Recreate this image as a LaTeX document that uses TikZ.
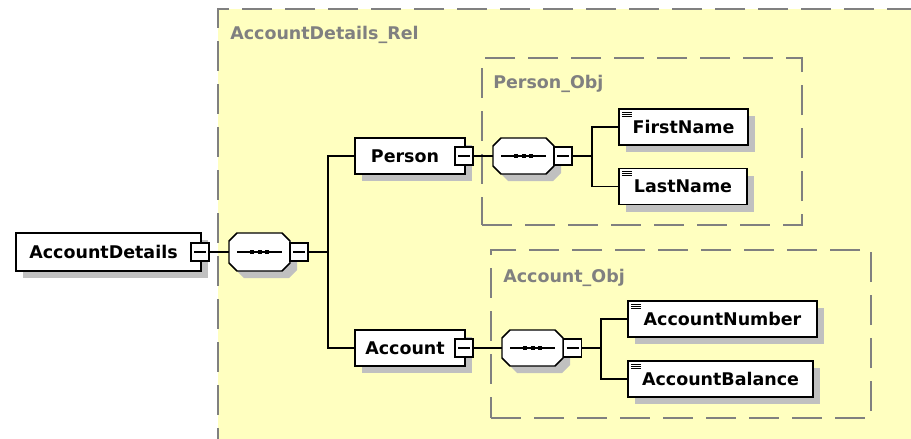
\documentclass[tikz,border=0pt]{standalone}
\usepackage{fontspec}
\newfontfamily\lbl{DejaVu Sans}
\usetikzlibrary{shadows}
\definecolor{grp}{RGB}{255,255,192}
\definecolor{shd}{RGB}{192,192,192}
\definecolor{dsh}{RGB}{128,128,128}
\newcommand\lblfont{\lbl\bfseries\fontsize{13.1pt}{16pt}\selectfont}
\newcommand\octp[4]{\path[#4] ([shift={(8+#2,#3)}]#1.north west) -- ([shift={(-8+#2,#3)}]#1.north east) -- ([shift={(#2,8+#3)}]#1.north east) -- ([shift={(#2,-8+#3)}]#1.south east) -- ([shift={(-8+#2,#3)}]#1.south east) -- ([shift={(8+#2,#3)}]#1.south west) -- ([shift={(#2,-8+#3)}]#1.south west) -- ([shift={(#2,8+#3)}]#1.north west) -- cycle;}
\newcommand\seqoct[1]{%
  \octp{#1}{7}{7}{fill=shd}%
  \octp{#1}{0}{0}{draw, fill=white, line width=1.1pt}%
  \draw[line width=1.1pt] ([xshift=6pt]#1.west) -- ([xshift=-6pt]#1.east);%
  \fill ([shift={(-9.5,-2)}]#1.center) rectangle ++(4,4);%
  \fill ([shift={(-2,-2)}]#1.center) rectangle ++(4,4);%
  \fill ([shift={(5.5,-2)}]#1.center) rectangle ++(4,4);%
}
\tikzset{
  group/.style={draw=dsh, fill=grp, line width=1.1pt, dash pattern=on 22.5pt off 9.75pt, inner sep=0pt, outer sep=0pt},
  grplabel/.style={anchor=base west, inner sep=0pt, text=dsh, font=\lblfont},
  elem/.style={draw, fill=white, line width=1.1pt, inner sep=0pt, outer sep=0pt, minimum height=27pt,
    text height=9.55pt, text depth=0pt, font=\lblfont,
    drop shadow={shadow xshift=5.25pt, shadow yshift=-5.25pt, fill=shd, opacity=1}},
  leaf/.style={elem, path picture={
    \draw[line width=0.75pt] ([shift={(3,3)}]path picture bounding box.north west) -- ++(10,0);
    \draw[line width=0.75pt] ([shift={(3,5)}]path picture bounding box.north west) -- ++(10,0);
    \draw[line width=0.75pt] ([shift={(3,7)}]path picture bounding box.north west) -- ++(10,0);}},
  minusbox/.style={draw, fill=white, line width=0.9pt, minimum size=13.5pt, inner sep=0pt, outer sep=0pt,
    path picture={\draw[line width=1pt] ([xshift=2.25pt]path picture bounding box.west) -- ([xshift=-2.25pt]path picture bounding box.east);}},
  seqbox/.style={inner sep=0pt, outer sep=0pt, minimum width=45.75pt, minimum height=27pt},
  conn/.style={line width=1.1pt}
}
\begin{document}
\begin{tikzpicture}[x=0.75pt,y=-0.75pt]
\useasboundingbox (0,0) rectangle (911,439);
\clip (0,0) rectangle (911,439);
% groups
\node[group, minimum width=530.25pt, minimum height=334.5pt] (rel) at (571.5,232) {};
\node[group, minimum width=240pt, minimum height=125.25pt] (pobj) at (642,141.5) {};
\node[group, minimum width=285pt, minimum height=126pt] (aobj) at (681,334) {};
\node[grplabel] (rellbl) at (230,40) {AccountDetails\_Rel};
\node[grplabel] (plbl) at (493,88) {Person\_Obj};
\node[grplabel] (albl) at (503,282) {Account\_Obj};
% root
\node[elem, minimum width=138.75pt, minimum height=28.5pt] (ad) at (108.5,252) {AccountDetails\hspace*{7.5pt}};
\node[minusbox] (adm) at (200,252) {};
\node[seqbox, minimum height=28.5pt] (s1) at (259.5,252) {};
\seqoct{s1}
\node[minusbox] (s1m) at (299,252) {};
\coordinate (j1) at (328,252);
% person / account
\node[elem, minimum width=82.5pt] (person) at (410,156) {Person\hspace*{7.5pt}};
\node[minusbox] (pm) at (464,156) {};
\node[elem, minimum width=82.5pt] (account) at (410,348) {Account\hspace*{7.5pt}};
\node[minusbox] (am) at (464,348) {};
% sequences
\node[seqbox] (s2) at (523.5,156) {};
\seqoct{s2}
\node[minusbox] (s2m) at (563,156) {};
\coordinate (j2) at (592,156);
\node[seqbox] (s3) at (532.5,348) {};
\seqoct{s3}
\node[minusbox] (s3m) at (572.5,348) {};
\coordinate (j3) at (601,348);
% leaves
\node[leaf, minimum width=96.75pt] (first) at (683.5,127) {FirstName};
\node[leaf, minimum width=96pt] (last) at (683,186.5) {LastName};
\node[leaf, minimum width=141.75pt] (accnum) at (722.5,319) {AccountNumber};
\node[leaf, minimum width=138.75pt] (accbal) at (720.5,379) {AccountBalance};
% connectors
\draw[conn] (adm.east) -- (s1.west);
\draw[conn] (s1m.east) -- (j1);
\draw[conn] (j1) |- (person.west);
\draw[conn] (j1) |- (account.west);
\draw[conn] (pm.east) -- (s2.west);
\draw[conn] (s2m.east) -- (j2);
\draw[conn] (j2) |- (first.west);
\draw[conn] (j2) |- (last.west);
\draw[conn] (am.east) -- (s3.west);
\draw[conn] (s3m.east) -- (j3);
\draw[conn] (j3) |- (accnum.west);
\draw[conn] (j3) |- (accbal.west);
\end{tikzpicture}
\end{document}
